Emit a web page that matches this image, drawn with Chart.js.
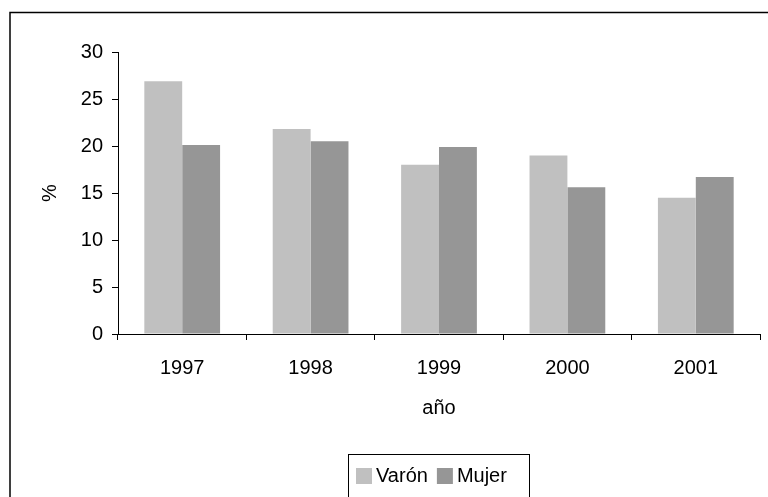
<!DOCTYPE html>
<html>
<head>
<meta charset="utf-8">
<script src="https://cdn.jsdelivr.net/npm/chart.js@4"></script>
<style>
  html, body { margin: 0; padding: 0; background: #fff; }
  #wrap { width: 768px; height: 497px; position: relative; }
</style>
</head>
<body>
<div id="wrap"><canvas id="chart" width="768" height="497"></canvas></div>
<script>
// Data
var years  = ["1997", "1998", "1999", "2000", "2001"];
var varon  = [26.9, 21.8, 18.0, 19.0, 14.5];
var mujer  = [20.1, 20.5, 19.9, 15.6, 16.7];
var seriesNames = ["Varón", "Mujer"];
var yTicks = [0, 5, 10, 15, 20, 25, 30];

var FONT = "'Liberation Sans', Arial, sans-serif";
var FS = 20;

// Outer frame + boxed legend
var framePlugin = {
  id: "frame",
  afterDraw: function (chart) {
    var ctx = chart.ctx;
    ctx.save();
    ctx.strokeStyle = "#000";
    ctx.lineWidth = 1.5;
    ctx.strokeRect(10, 12.5, 800, 600);

    // legend
    ctx.lineWidth = 1;
    ctx.strokeRect(348.5, 454.5, 181, 60);
    ctx.font = FS + "px " + FONT;
    ctx.textBaseline = "middle";
    var ds = chart.data.datasets;
    var x = 356;
    for (var i = 0; i < ds.length; i++) {
      ctx.fillStyle = ds[i].backgroundColor;
      ctx.fillRect(x, 468, 16, 16);
      ctx.fillStyle = "#000";
      ctx.fillText(ds[i].label, x + 20, 476);
      x += 20 + ctx.measureText(ds[i].label).width + 9;
    }
    ctx.restore();
  }
};

new Chart(document.getElementById("chart"), {
  type: "bar",
  data: {
    labels: years,
    datasets: [
      { label: seriesNames[0], data: varon, backgroundColor: "#C0C0C0" },
      { label: seriesNames[1], data: mujer, backgroundColor: "#969696" }
    ]
  },
  options: {
    responsive: false,
    animation: false,
    events: [],
    layout: { padding: { top: 52, right: 8, bottom: 77, left: 0 } },
    categoryPercentage: 0.59,
    barPercentage: 1.0,
    plugins: {
      legend: { display: false },
      tooltip: { enabled: false }
    },
    scales: {
      x: {
        offset: true,
        afterFit: function (s) { s.height = 86; },
        border: { display: true, color: "#000", width: 1 },
        grid: { display: true, drawOnChartArea: false, drawTicks: true, tickLength: 6, color: "#000", offset: true },
        ticks: { color: "#000", padding: 16, font: { family: FONT, size: FS }, maxRotation: 0 },
        title: { display: true, text: "año", color: "#000", font: { family: FONT, size: FS }, padding: { top: 0, bottom: 0 } }
      },
      y: {
        min: 0,
        max: 30,
        afterFit: function (s) { s.width = 118; },
        afterBuildTicks: function (s) {
          s.ticks = yTicks.map(function (v) { return { value: v }; });
        },
        border: { display: true, color: "#000", width: 1 },
        grid: { display: true, drawOnChartArea: false, drawTicks: true, tickLength: 6, color: "#000" },
        ticks: { color: "#000", padding: 9, font: { family: FONT, size: FS } },
        title: { display: true, text: "%", color: "#000", font: { family: FONT, size: FS }, padding: { top: 38, bottom: 0 } }
      }
    }
  },
  plugins: [framePlugin]
});
</script>
</body>
</html>
